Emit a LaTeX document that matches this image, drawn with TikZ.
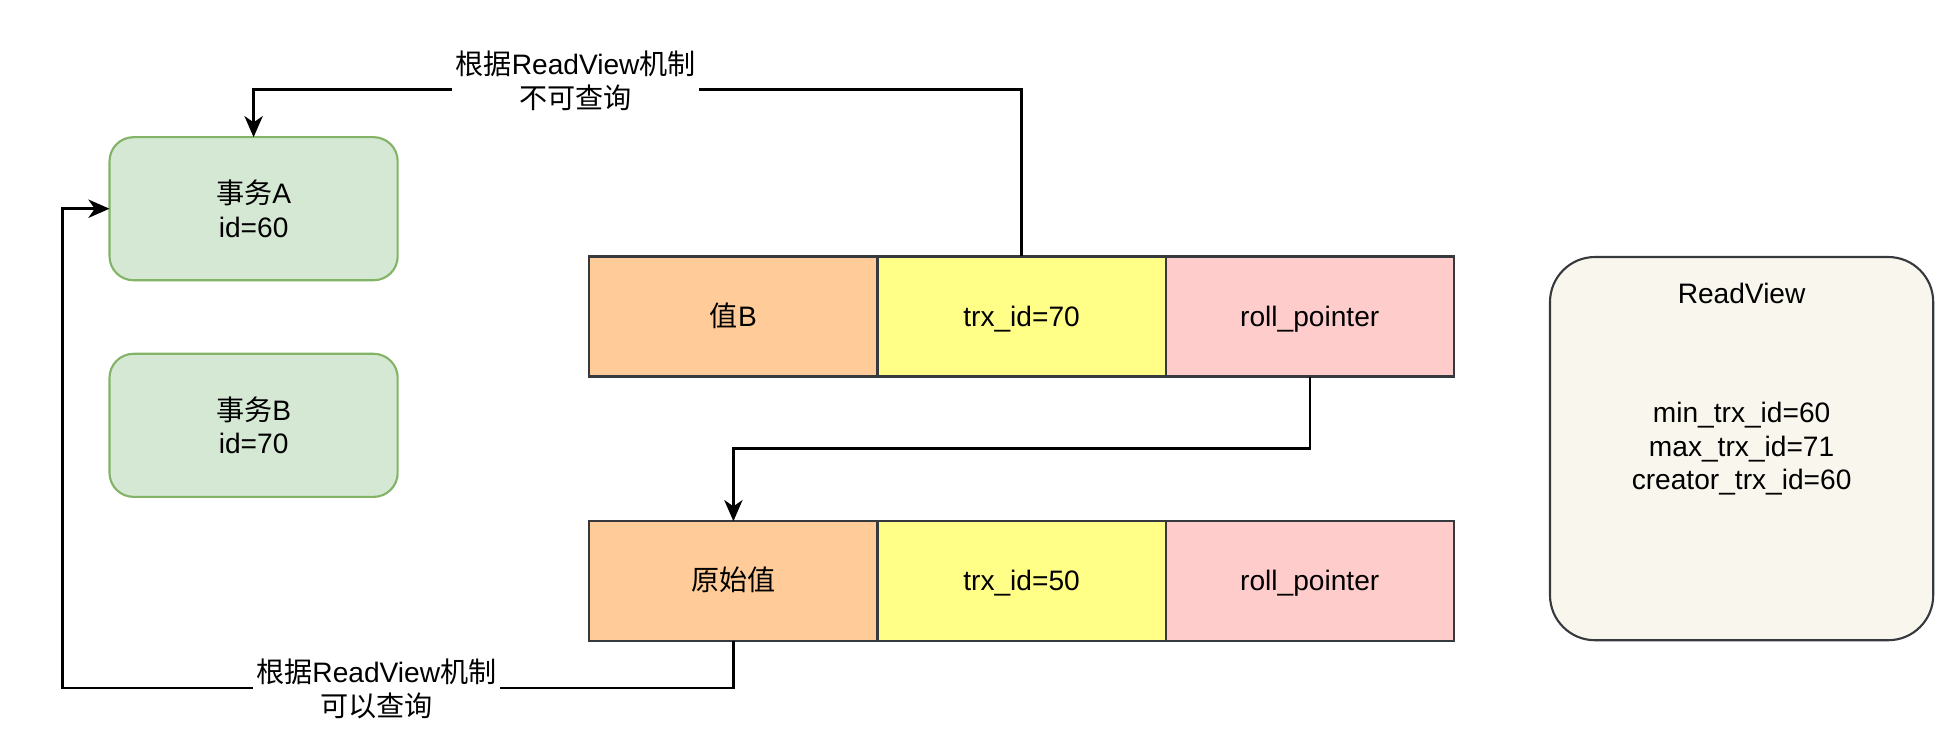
\documentclass[tikz,border=0pt]{standalone}
\usepackage{fontspec}
\setmainfont{Liberation Sans}
\newfontfamily\cjk{Noto Sans CJK SC}
\usetikzlibrary{positioning, arrows.meta}
\definecolor{txnGreen}{HTML}{D5E8D4}
\definecolor{txnGreenLine}{HTML}{82B366}
\definecolor{cellLine}{HTML}{36393D}
\definecolor{valueOrange}{HTML}{FFCC99}
\definecolor{trxYellow}{HTML}{FFFF88}
\definecolor{rollPink}{HTML}{FFCCCC}
\definecolor{viewCream}{HTML}{F9F7ED}

\begin{document}
\begin{tikzpicture}[x=0.01cm, y=-0.01cm, font=\fontsize{8}{9.6}\selectfont,
    txn/.style={draw=txnGreenLine, line width=0.6pt, fill=txnGreen, rounded corners=0.24cm,
                minimum width=2.88cm, minimum height=1.43cm, align=center, outer sep=0pt},
    cell/.style={draw=cellLine, line width=0.6pt, minimum width=2.88cm, minimum height=1.2cm,
                 text height=0.75em, text depth=0.2em, inner sep=0pt, outer sep=0pt},
    flow/.style={draw, line width=0.7pt, -{Stealth[length=6pt, width=5.2pt, inset=1.8pt]}},
    lbl/.style={fill=white, align=center, inner sep=1pt}]
    \useasboundingbox (0,0) rectangle (1954,744);

    \node[txn] (txnA) at (253.6,208.7) {{\cjk 事务}A\\id=60};
    \node[txn, below=0.735cm of txnA] (txnB) {{\cjk 事务}B\\id=70};

    \node[cell, fill=valueOrange] (valB) at (733.4,316.5) {{\cjk 值}B};
    \node[cell, fill=trxYellow, right=0pt of valB] (trxB) {trx\_id=70};
    \node[cell, fill=rollPink, right=0pt of trxB] (rollB) {roll\_pointer};

    \node[cell, fill=valueOrange, below=1.445cm of valB] (valOrig) {{\cjk 原始值}};
    \node[cell, fill=trxYellow, right=0pt of valOrig] (trxOrig) {trx\_id=50};
    \node[cell, fill=rollPink, right=0pt of trxOrig] (rollOrig) {roll\_pointer};

    \node[draw=cellLine, line width=0.6pt, fill=viewCream, rounded corners=0.45cm,
          minimum width=3.83cm, minimum height=3.83cm, outer sep=0pt] (view) at (1741.6,448.6) {};
    \node (viewTitle) at ([yshift=-0.362cm]view.north) {ReadView};
    \node[align=center] (viewFields) at (view.center)
      {min\_trx\_id=60\\max\_trx\_id=71\\creator\_trx\_id=60};

    \coordinate (upperLane) at (0,89.7);
    \coordinate (midLane) at (0,448.6);
    \coordinate (lowerLane) at (0,687.9);
    \coordinate (leftLane) at (62.3,0);

    \draw[flow] (trxB.north) -- (trxB.north |- upperLane) -| (txnA.north);
    \draw[flow] (rollB.south) -- (rollB.south |- midLane) -| (valOrig.north);
    \draw[flow] (valOrig.south) -- (valOrig.south |- lowerLane) -| (leftLane |- txnA.west) -- (txnA.west);

    \node[lbl] (denyNote) at (575.7,81) {{\cjk 根据}ReadView{\cjk 机制}\\{\cjk 不可查询}};
    \node[lbl] (allowNote) at (376.3,689) {{\cjk 根据}ReadView{\cjk 机制}\\{\cjk 可以查询}};
\end{tikzpicture}
\end{document}
